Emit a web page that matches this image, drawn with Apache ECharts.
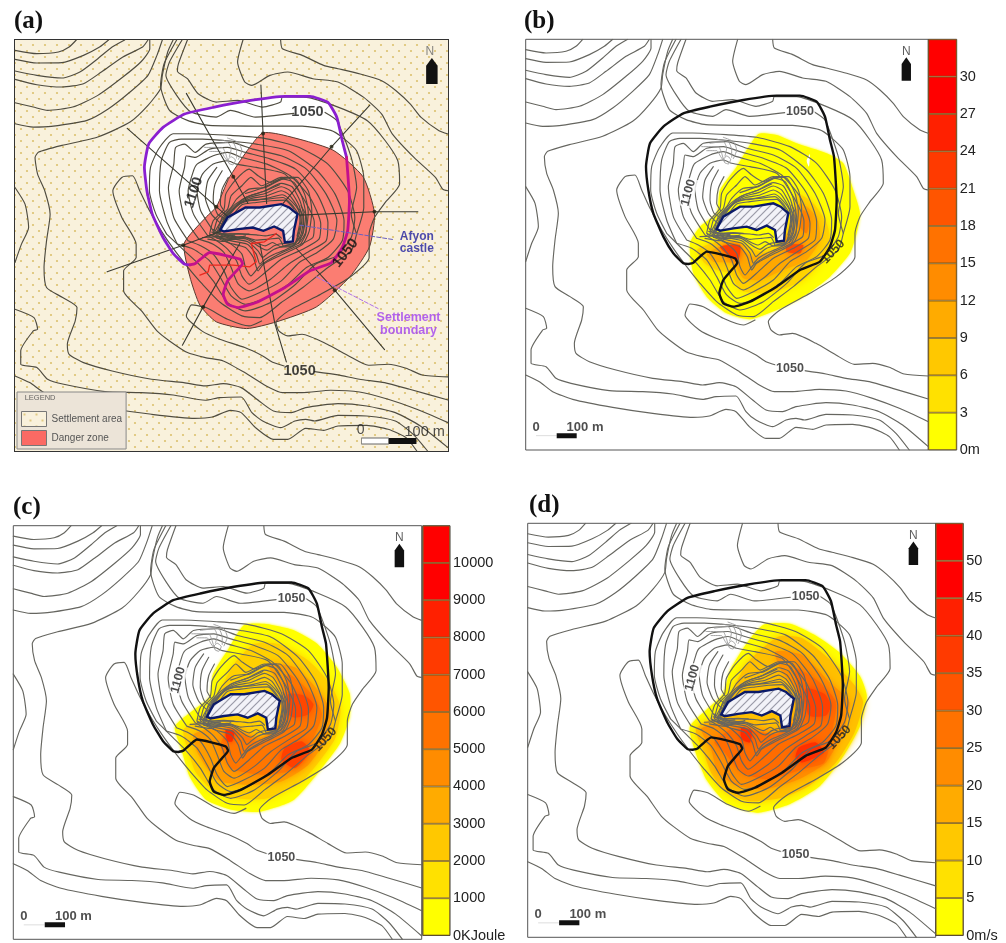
<!DOCTYPE html>
<html><head><meta charset="utf-8">
<style>html,body{margin:0;padding:0;background:#fff;overflow:hidden}#m{width:1006px;height:943px}</style>
<script src="https://cdn.jsdelivr.net/npm/echarts@6/dist/echarts.min.js"></script>
</head><body><div id="m"></div>
<script>
// ---- map extent (all coordinates are map units) ----
const mapXMin=47,mapXMax=1255,mapYMin=118,mapYMax=1350;
const mapExtent=[[47,118],[1255,118],[1255,1350],[47,1350]];
// ---- outer terrain contours ----
const cTL1=[[47,149],[108,159],[168,154],[198,139],[218,118]];
const cTL2=[[47,176],[108,187],[178,186],[238,164],[283,139],[308,118]];
const cTL3=[[47,211],[108,224],[178,232],[228,214],[278,174],[318,139],[353,118]];
const cTL4=[[47,236],[108,252],[178,259],[238,249],[288,214],[348,169],[403,139],[418,118]];
const cTL5=[[47,306],[98,319],[138,329],[208,319],[278,284],[348,229],[398,184],[423,144],[423,118]];
const cTL6=[[47,369],[98,379],[148,377],[248,359],[308,324],[368,274],[418,224],[443,164],[458,118]];
const cLeft=[[47,560],[75,610],[85,680],[65,730],[47,785]];
const cBig=[[488,118],[473,154],[458,224],[453,264],[418,314],[368,364],[278,409],[178,434],[113,454],[103,470],[110,520],[130,570],[145,640],[135,720],[128,800],[135,860],[180,890],[220,920],[215,960],[193,1030],[198,1060],[238,1085],[318,1110],[428,1135],[518,1145],[578,1155],[628,1148],[678,1160],[728,1200],[768,1230],[818,1235],[858,1220],[948,1208],[1028,1215],[1108,1235],[1178,1275],[1255,1340]];
const cTop2=[[513,118],[478,184],[468,224],[498,284],[538,334],[608,349],[648,329],[718,349],[825,338]];
const cTop2b=[[912,335],[945,360],[985,470],[1000,560],[985,640],[1000,700]];
const cK2=[[1255,1128],[1183,1122],[1138,1102],[1088,1090],[1033,1093],[978,1065],[918,1030],[848,1000],[808,1005],[783,990],[775,965],[810,930],[900,880],[980,830],[1035,770],[1035,700],[1050,650],[1080,605],[1120,550],[1115,480],[1080,420],[1030,360],[950,320],[860,290],[793,289],[788,304],[738,319],[668,299],[608,304],[558,279],[528,234],[500,212],[503,189],[528,118]];
const cU1=[[788,118],[793,144],[848,164],[908,194],[948,204],[1010,220],[1070,240],[1110,270],[1150,310],[1180,350],[1230,390],[1255,400]];
const cU2=[[683,118],[668,184],[688,244],[708,254],[758,224],[808,214],[878,234],[948,244],[1020,290],[1070,340],[1100,400],[1160,470],[1220,530],[1240,565],[1255,570]];
const cB1a=[[1255,1197],[1148,1165],[1078,1145],[1008,1135],[948,1122],[883,1112]];
const cB1b=[[798,1095],[768,1085],[738,1065],[688,1040],[618,1015],[568,990],[525,945],[540,912],[580,920],[640,955],[700,975],[735,960]];
const cC=[[1255,1265],[1168,1225],[1088,1195],[1008,1173],[928,1168],[848,1175],[793,1175],[748,1155],[688,1115],[628,1080],[578,1070],[528,1055],[478,1020],[443,990],[400,930],[350,870],[350,810],[385,770],[385,730],[345,650],[320,570],[345,530],[375,525],[395,570],[420,625],[455,690],[490,745],[530,800],[570,850],[620,905],[680,945],[730,950],[790,905],[850,860],[920,800],[985,750],[1000,700],[1020,620],[1020,530],[1000,450],[960,410],[928,389],[848,376],[748,376],[588,374],[528,359],[478,329],[453,254],[463,189],[498,118]];
const cE=[[47,925],[100,950],[110,985],[98,990],[63,1050],[63,1090],[108,1100],[138,1135],[183,1150],[298,1172],[398,1175],[488,1182],[578,1198],[618,1190],[678,1188],[708,1235],[738,1260],[788,1280],[828,1260],[858,1255],[883,1260],[948,1243],[1028,1245],[1108,1260],[1158,1300],[1198,1350]];
const cF=[[47,1125],[88,1145],[128,1175],[188,1198],[308,1222],[428,1240],[548,1252],[598,1248],[648,1228],[678,1235],[718,1280],[768,1315],[808,1315],[858,1282],[908,1288],[948,1275],[1028,1273],[1088,1285],[1138,1310],[1168,1350]];
// ---- hill contours ----
const rP1=[[470,700],[440,640],[422,570],[425,500],[448,444],[488,399],[548,399],[648,404],[740,412],[840,440],[920,490],[975,570],[995,650],[985,710],[945,765],[885,790],[830,850],[760,905],[690,930],[640,905],[600,840],[560,790],[520,750],[470,700]];
const rP2=[[500,730],[470,660],[450,570],[455,480],[478,425],[510,415],[570,415],[640,420],[720,430],[810,450],[890,510],[940,580],[965,660],[960,720],[920,770],[860,800],[810,850],[750,890],[690,910],[650,885],[620,830],[590,780],[545,745],[500,730]];
const rP3=[[530,720],[490,650],[475,560],[490,490],[495,440],[520,430],[550,455],[580,430],[650,425],[710,445],[790,465],[860,505],[915,580],[945,660],[935,715],[890,755],[840,785],[790,840],[730,875],[680,895],[650,860],[630,810],[600,760],[565,735],[530,720]];
const rP4=[[560,715],[520,650],[505,570],[520,500],[525,465],[550,470],[590,445],[640,440],[690,455],[760,475],[830,505],[890,580],[920,665],[915,720],[870,750],[810,790],[760,835],[700,870],[670,850],[650,800],[630,755],[600,730],[560,715]];
const rP5=[[585,705],[545,640],[530,570],[545,510],[555,490],[600,465],[640,455],[680,470],[750,490],[815,525],[870,590],[900,670],[895,715],[850,745],[790,775],[745,815],[700,850],[680,825],[665,780],[640,745],[610,720],[585,705]];
const rP6=[[600,690],[565,630],[555,570],[570,520],[600,490],[640,480],[665,490],[720,500],[800,520],[850,590],[882,665],[878,710],[835,735],[780,762],[730,795],[705,825],[690,800],[680,760],[650,730],[620,710],[600,690]];
const rW1=[[610,500],[585,540],[578,590],[595,640],[625,672]];
const rW2=[[625,510],[605,550],[600,600],[612,640],[635,655]];
const rW3=[[642,530],[625,565],[620,610],[632,632]];
const rQ1=[[590,700],[600,660],[630,625],[635,580],[660,540],[700,505],[725,525],[760,545],[800,530],[835,530],[865,570],[875,630],[868,690],[850,730],[815,750],[775,770],[740,790],[725,810],[712,770],[690,740],[640,725],[590,700]];
const rQ2=[[600,700],[612,655],[640,625],[650,585],[680,555],[705,530],[735,555],[790,530],[830,535],[855,580],[865,635],[858,695],[840,725],[805,745],[770,760],[745,775],[730,790],[720,760],[695,730],[640,718],[600,700]];
const rQ3=[[610,698],[625,650],[650,620],[665,595],[700,565],[745,560],[795,535],[825,545],[848,590],[858,640],[850,700],[830,725],[800,735],[770,745],[750,760],[738,770],[725,750],[695,722],[645,712],[610,698]];
const rQ4=[[615,697],[630,655],[660,618],[690,590],[740,572],[790,548],[820,558],[842,600],[852,645],[845,700],[825,730],[795,728],[770,735],[750,748],[735,742],[695,716],[645,708],[615,697]];
const rQ5=[[618,696],[634,652],[668,612],[700,590],[745,578],[790,558],[815,570],[838,610],[848,650],[840,700],[822,736],[790,738],[765,725],[745,735],[725,728],[695,712],[645,705],[618,696]];
const rQ6=[[612,695],[636,648],[675,608],[710,592],[750,585],[790,570],[812,582],[835,618],[845,655],[837,700],[826,732],[800,735]];
const rQ7=[[606,690],[628,652],[680,604],[720,598],[760,590],[792,582],[812,595],[838,628],[842,660],[834,705]];
const rQ8=[[596,694],[640,700],[680,700],[720,702],[745,705],[775,700],[790,712]];
const rQ9=[[592,704],[640,712],[680,707],[720,718],[755,715],[782,712],[795,735]];
const rQ10=[[600,686],[625,700],[670,698],[700,700]];
const rQ11=[[585,715],[630,722],[665,712],[690,705]];
const rQ12=[[570,710],[620,707],[660,703]];
const rQ13=[[640,650],[670,612],[705,598],[750,595],[795,590],[820,612],[838,640]];
const rQ14=[[632,645],[662,610],[700,586],[745,570],[785,552]];
const rQ15=[[644,660],[680,612],[720,605],[760,600],[800,598],[826,625]];
const rQ16=[[840,625],[852,650],[850,695],[838,728]];
const rQ17=[[845,615],[860,650],[858,700],[843,732]];
const rQ18=[[610,712],[650,716],[690,712]];
const rQ19=[[690,578],[740,560],[790,535],[825,530]];
// ---- fine grey lines at the summit ----
const gSummit=[[642,475],[650,468],[662,478],[655,492],[644,488],[642,475]];
const g1=[[600,430],[640,425],[650,445],[645,468]];
const g2=[[620,418],[655,425],[665,450],[665,472]];
const g3=[[575,440],[625,440],[635,460],[640,478]];
const g4=[[640,412],[670,425],[680,450],[670,476]];
const g5=[[590,452],[620,452],[632,470],[642,484]];
const terrain=[cTL1,cTL2,cTL3,cTL4,cTL5,cTL6,cLeft,cBig,cTop2,cTop2b,cK2,cU1,cU2,cB1a,cB1b,cC,cE,cF,rP1,rP2,rP3,rP4,rP5,rP6,rW1,rW2,rW3,rQ1,rQ2,rQ3,rQ4,rQ5,rQ6,rQ7,rQ8,rQ9,rQ10,rQ11,rQ12,rQ13,rQ14,rQ15,rQ16,rQ17,rQ18,rQ19];
const fine=[gSummit,g1,g2,g3,g4,g5];
// ---- settlement boundary, castle ----
const boundaryNorth=[[535,792],[520,790],[490,760],[460,710],[430,640],[415,570],[408,500],[420,430],[460,380],[520,340],[600,320],[700,300],[800,287],[870,287],[920,305],[945,350],[960,420],[972,470]];
const boundarySouth=[[972,470],[980,600],[975,690],[960,740],[930,785],[870,810],[800,860],[720,905],[670,920],[640,910],[628,880],[640,840],[665,810],[682,788],[675,775],[590,755],[570,770],[550,788],[535,792]];
const castle=[[620,687],[640,650],[690,620],[730,620],[790,610],[812,620],[835,640],[825,690],[822,722],[800,725],[795,690],[770,677],[740,690],[710,680],[670,685],[630,692]];
// ---- panel (a) ----
const dangerZone=[[735,398],[795,403],[934,448],[1018,528],[1050,638],[1036,738],[981,828],[888,918],[776,963],[693,983],[609,963],[563,913],[535,828],[519,728],[581,648],[609,618],[646,528]];
const sec1=[[733,253],[739,398],[749,608]];
const sec2=[[525,278],[656,528],[697,608]];
const sec3=[[360,383],[609,618],[674,678]];
const sec4=[[304,813],[516,733],[628,688]];
const sec5=[[514,1033],[572,918],[674,728]];
const sec6=[[804,1083],[772,968],[730,728]];
const sec7=[[1078,1046],[939,868],[832,743]];
const sec8=[[1171,633],[1050,633],[841,643]];
const sec9=[[1037,313],[930,438],[795,608]];
const secDots=[[739,398],[656,528],[609,618],[516,733],[572,918],[939,868],[1050,633],[930,438]];
const redPath=[[563,823],[586,813],[590,793],[655,793],[702,798],[720,783],[706,728],[743,723],[776,698]];
const castleCallout=[[841,673],[1101,716]];
const settleCallout=[[888,828],[1060,923]];
// ---- heat shapes ----
const heatB0=[[745,402],[800,405],[860,430],[950,460],[1000,490],[1030,570],[1050,640],[1040,700],[1020,760],[960,830],[880,890],[800,930],[720,958],[650,940],[590,890],[550,820],[540,730],[570,680],[620,640],[630,570],[680,500]];
const heatBHole=[[890,482],[900,462],[897,500]];
const heatB1=[[860,580],[910,610],[950,670],[960,720],[930,790],[880,840],[810,870],[750,880],[690,870],[660,820],[620,810],[585,790],[560,750],[640,720],[690,730],[770,760],[840,720],[850,640]];
const heatB2=[[870,610],[920,650],[930,720],[890,780],[820,810],[750,840],[700,835],[670,790],[610,785],[590,760],[670,730],[730,770],[810,740],[840,680]];
const heatB3=[[830,735],[880,735],[870,760],[830,755]];
const heatB4=[[630,740],[690,735],[685,780],[660,770]];
const heatB5=[[880,630],[900,650],[890,700],[870,680]];
const heatC0=[[730,414],[795,411],[875,429],[945,469],[1003,538],[1042,618],[1042,688],[1013,767],[954,847],[875,936],[776,970],[697,965],[618,935],[569,866],[545,786],[525,717],[580,667],[628,628],[638,559],[687,479]];
const heatC1=[[760,470],[830,470],[920,520],[985,590],[1015,660],[1000,750],[960,810],[900,880],[800,930],[700,930],[630,900],[585,850],[565,790],[550,725],[610,690],[650,625],[700,530]];
const heatC2=[[800,530],[880,540],[950,610],[985,670],[975,750],[920,830],[840,880],[750,890],[660,880],[620,840],[590,790],[580,740],[640,720],[690,720],[780,750],[840,700],[850,620]];
const heatC3=[[860,560],[930,620],[960,680],[935,750],[900,810],[860,850],[780,860],[690,840],[660,770],[690,725],[770,760],[840,725],[850,640]];
const heatC4=[[860,620],[910,625],[935,650],[920,680],[880,690],[860,680]];
const heatC5=[[850,780],[900,760],[925,790],[880,840],[840,815]];
const heatC6=[[675,725],[700,730],[695,760],[680,760]];
const heatD0=[[745,420],[824,417],[903,454],[972,504],[1031,573],[1051,632],[1031,721],[982,810],[913,899],[824,953],[725,979],[636,951],[577,882],[542,793],[527,724],[586,664],[626,625],[646,556],[695,476]];
const heatD1=[[790,455],[860,460],[950,530],[1015,600],[1040,650],[1015,740],[960,830],[880,900],[800,935],[700,945],[630,915],[590,860],[565,790],[545,730],[610,690],[650,620],[700,530]];
const heatD2=[[780,500],[860,510],[940,590],[1000,650],[980,740],[930,830],[850,880],[750,910],[670,900],[610,860],[590,790],[560,730],[600,715],[650,715],[780,745],[850,690],[850,620],[800,560]];
const heatD3=[[840,550],[910,590],[960,650],[950,730],[925,830],[860,850],[760,880],[680,860],[630,800],[600,770],[650,730],[690,730],[780,745],[850,710],[850,640]];
const heatD4=[[870,610],[925,625],[945,660],[930,690],[880,690]];
const heatD5=[[850,785],[900,770],[925,800],[860,830],[840,815]];
const heatD6=[[680,725],[710,735],[705,770],[680,760]];
// ---- colour scales ----
const bandColors=['#ffff00','#ffe100','#ffc800','#ffab00','#ff8c00','#ff7200','#ff5500','#ff3a00','#ff2000','#ff0000','#ff0000'];
const depthTicks=[0,3,6,9,12,15,18,21,24,27,30,33];
const energyTicks=[0,1000,2000,3000,4000,5000,6000,7000,8000,9000,10000,11000];
const speedTicks=[0,5,10,15,20,25,30,35,40,45,50,55];
// ---- text ----
const panelTitles=['(a)','(b)','(c)','(d)'];
const northArrowA=[[1210,172],[1226,195],[1226,250],[1194,250],[1194,195]];
const northArrow=[[1189,172],[1203,192],[1203,242],[1175,242],[1175,192]];
const scaleWhiteA=[[1013,1320],[1090,1320]];
const scaleBlackA=[[1090,1320],[1167,1320]];
const scaleWhite=[[78,1307],[140,1307]];
const scaleBlack=[[140,1307],[200,1307]];

// ---- patterns ----
function dots(){const c=document.createElement('canvas');c.width=12;c.height=12;const x=c.getContext('2d');x.fillStyle='#f9f1dc';x.fillRect(0,0,12,12);x.fillStyle='#dcc170';[[3,3],[9,9]].forEach(p=>{x.beginPath();x.arc(p[0],p[1],1.1,0,7);x.fill();});return {image:c,repeat:'repeat'};}
function hatch(){const n=8,c=document.createElement('canvas');c.width=n;c.height=n;const x=c.getContext('2d');x.fillStyle='#f2f2f8';x.fillRect(0,0,n,n);x.strokeStyle='#9a9aa8';x.lineWidth=1.2;[[-1,1,1,-1],[0,n,n,0],[n-1,n+1,n+1,n-1]].forEach(s=>{x.beginPath();x.moveTo(s[0],s[1]);x.lineTo(s[2],s[3]);x.stroke();});return {image:c,repeat:'repeat'};}
const dotFill=dots(),hatchFill=hatch();

const series=[];
function poly(i,pts,fill,o){o=o||{};series.push({type:'custom',name:o.name,coordinateSystem:'cartesian2d',xAxisIndex:i,yAxisIndex:i,data:pts,encode:{x:0,y:1},silent:true,animation:false,clip:true,z:o.z||2,
 renderItem:(p,api)=>p.dataIndex>0?null:({type:'polygon',shape:{points:pts.map(q=>api.coord(q)),smooth:o.smooth||0},style:{fill:fill,stroke:o.stroke||null,lineWidth:o.lw||0,shadowBlur:o.blur||0,shadowColor:o.blur?fill:null}})});}
function line(i,pts,color,w,o){o=o||{};series.push({type:'line',xAxisIndex:i,yAxisIndex:i,data:pts,symbol:'none',silent:true,animation:false,smooth:o.smooth||0,lineStyle:{color:color,width:w,type:o.type||'solid',cap:o.cap||'round',join:'round'},z:o.z||2});}
function texts(i,items){series.push({type:'scatter',xAxisIndex:i,yAxisIndex:i,symbolSize:0,silent:true,animation:false,z:10,
 data:items.map(t=>({value:[t[0],t[1]],label:Object.assign({show:true,position:'inside',formatter:t[2],fontFamily:'Liberation Sans',color:'#111',fontSize:13},t[3]||{})}))});}

function drawHeat(i,layers){layers.forEach(l=>poly(i,l[0],l[1],{smooth:0.2,blur:l[2]===undefined?9:l[2]}));}
function drawTerrain(i,color,w){terrain.forEach(c=>line(i,c,color,w,{smooth:0.2}));fine.forEach(c=>line(i,c,'#999',0.9,{smooth:0.2}));}
function drawCastle(i){poly(i,castle,hatchFill,{stroke:'#0b1a68',lw:2.4,z:3});}

// panel a
poly(0,mapExtent,dotFill,{name:'Settlement area'});
poly(0,boundaryNorth.concat(boundarySouth),'#ffffff',{smooth:0.15});
poly(0,dangerZone,'#fb7d72',{name:'Danger zone',smooth:0.2,stroke:'#5a3a30',lw:1});
drawTerrain(0,'#4f4c40',1.15);
[sec1,sec2,sec3,sec4,sec5,sec6,sec7,sec8,sec9].forEach(s=>line(0,s,'#3a3a30',1.1));
series.push({type:'scatter',xAxisIndex:0,yAxisIndex:0,data:secDots,symbolSize:4,itemStyle:{color:'#221'},silent:true,animation:false,z:3});
line(0,redPath,'#e8281e',1.3,{z:3});
line(0,boundaryNorth,'#8a1fd0',2.8,{smooth:0.15,z:3});
line(0,boundarySouth,'#c4108c',2.8,{smooth:0.15,z:3});
line(0,castleCallout,'#6a60c0',1,{type:'dashed',z:3});
line(0,settleCallout,'#b070e8',1,{type:'dashed',z:3});
drawCastle(0);
poly(0,northArrowA,'#111',{z:3});
line(0,scaleWhiteA,'#666',7,{cap:'butt',z:3});line(0,[[1015,1320],[1088,1320]],'#fff',5,{cap:'butt',z:3});
line(0,scaleBlackA,'#111',6,{cap:'butt',z:3});
const boldA={fontWeight:'bold',fontSize:14.5};
texts(0,[
 [863,333,'1050',boldA],[546,575,'1100',Object.assign({rotate:72},boldA)],[969,757,'1050',Object.assign({rotate:52},boldA)],[841,1110,'1050',boldA],
 [1168,726,'Afyon\ncastle',{fontWeight:'bold',fontSize:12,lineHeight:12,color:'#2222a0',align:'center'}],
 [1145,970,'Settlement\nboundary',{fontWeight:'bold',fontSize:12.5,lineHeight:12.5,color:'#a040f0',align:'center'}],
 [1011,1288,'0',{fontSize:14,color:'#222'}],[1190,1293,'100 m',{fontSize:14.5,color:'#222'}],
 [1204,152,'N',{fontSize:12,color:'#666'}],[117,1190,'LEGEND',{fontSize:7.5,color:'#444'}]]);

// panels b, c, d
const heatByPanel=[
 [[heatB0,'#ffff00',3],[heatBHole,'#ffffff',0],[heatB1,'#ffd400',10],[heatB2,'#ffa800',10],[heatB3,'#ff4a00',7],[heatB4,'#ff3c00',7],[heatB5,'#ff8000',7]],
 [[heatC0,'#ffff00',3],[heatC1,'#ffd000'],[heatC2,'#ff9c00'],[heatC3,'#ff7600'],[heatC4,'#ff4600',8],[heatC5,'#ff4000',8],[heatC6,'#ff2a00',5]],
 [[heatD0,'#ffff00',3],[heatD1,'#ffc000'],[heatD2,'#ff9000'],[heatD3,'#ff6c00'],[heatD4,'#ff4000',8],[heatD5,'#ff3000',8],[heatD6,'#ff2a00',5]]];
const tickSets=[depthTicks,energyTicks,speedTicks];
const units=['m','KJoule','m/s'];
[1,2,3].forEach(i=>{
 drawHeat(i,heatByPanel[i-1]);
 drawTerrain(i,'#666660',1.15);
 line(i,boundaryNorth.concat(boundarySouth.slice(1)),'#111',2.4,{smooth:0.15,z:3});
 drawCastle(i);
 poly(i,northArrow,'#111',{z:3});
 line(i,scaleWhite,'#ddd',1,{cap:'butt',z:3});
 line(i,scaleBlack,'#111',5,{cap:'butt',z:3});
 const bg={backgroundColor:'#fff',padding:[0,1],fontWeight:'bold',fontSize:12.5,color:'#222'};
 texts(i,[[870,335,'1050',bg],[535,578,'1100',Object.assign({},bg,{rotate:75})],[970,755,'1050',Object.assign({},bg,{rotate:47,backgroundColor:'transparent'})],[840,1105,'1050',bg],
  [78,1283,'0',{fontSize:13,fontWeight:'bold',color:'#222'}],[225,1283,'100 m',{fontSize:13,fontWeight:'bold',color:'#222'}],[1189,155,'N',{fontSize:12,color:'#333'}]]);
 // colour bar
 const ci=i+3,ticks=tickSets[i-1];
 bandColors.forEach((c,k)=>series.push({type:'bar',xAxisIndex:ci,yAxisIndex:ci,stack:'s'+i,barWidth:'100%',data:[ticks[k+1]-ticks[k]],silent:true,animation:false,itemStyle:{color:c,borderColor:'#7a5a18',borderWidth:0.8}}));
});

const mapGrids=[{left:15,top:40,width:433,height:411,show:true,borderColor:'#333',borderWidth:2},
 {left:525.7,top:39.3,width:402.6,height:410.7,show:true,borderColor:'#555',borderWidth:1},
 {left:13.3,top:525.7,width:408.4,height:413.6,show:true,borderColor:'#555',borderWidth:1},
 {left:527.7,top:523.3,width:408,height:414,show:true,borderColor:'#555',borderWidth:1}];
const barGrids=[{left:928.3,top:39.3,width:28.4,height:410.7},{left:422.7,top:525.7,width:27.3,height:413.6},{left:935.7,top:523.3,width:27.6,height:414}];
const xAxes=[],yAxes=[];
mapGrids.forEach((g,i)=>{xAxes.push({type:'value',gridIndex:i,min:mapXMin,max:mapXMax,show:false});yAxes.push({type:'value',gridIndex:i,min:mapYMin,max:mapYMax,inverse:true,show:false});});
barGrids.forEach((g,k)=>{const t=tickSets[k],u=units[k],top=t[t.length-1];g.show=true;g.borderColor='#444';g.borderWidth=1;
 xAxes.push({type:'category',gridIndex:k+4,data:['band'],show:false});
 yAxes.push({type:'value',gridIndex:k+4,position:'right',min:0,max:top,interval:t[1],splitLine:{show:false},axisLine:{show:false},axisTick:{show:false},
  axisLabel:{margin:3,color:'#222',fontSize:14.5,fontFamily:'Liberation Sans',formatter:v=>v===0?'0'+u:(v===top?'':String(v))}});});
const titlePos=[[14,9],[524,9],[13,495],[529,493]];
const chart=echarts.init(document.getElementById('m'),null,{renderer:'canvas'});
chart.setOption({animation:false,backgroundColor:'#fff',
 title:panelTitles.map((t,i)=>({text:t,left:titlePos[i][0],top:titlePos[i][1],padding:0,textStyle:{fontFamily:'Liberation Serif',fontWeight:'bold',fontSize:25,color:'#111'}})),
 legend:{left:17,top:392,orient:'vertical',selectedMode:false,padding:[19,4,3,4],itemWidth:25,itemHeight:15,itemGap:3,backgroundColor:'#ece4d8',borderColor:'#888',borderWidth:1,textStyle:{fontSize:10,color:'#555',fontFamily:'Liberation Sans'},
  data:[{name:'Settlement area',icon:'rect',itemStyle:{color:dotFill,borderColor:'#777',borderWidth:1}},{name:'Danger zone',icon:'rect',itemStyle:{color:'#fb6a64',borderColor:'#777',borderWidth:1}}]},
 grid:mapGrids.concat(barGrids),xAxis:xAxes,yAxis:yAxes,series:series});
</script></body></html>
